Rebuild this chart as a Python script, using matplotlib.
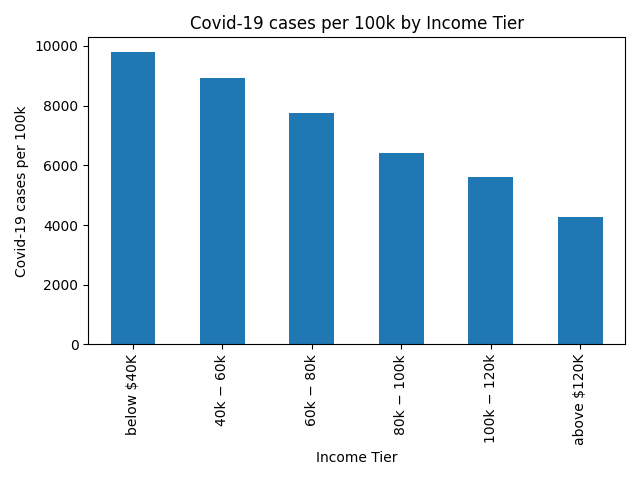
import matplotlib
matplotlib.use("Agg")
import matplotlib.pyplot as plt

tiers = ["below \\$40K", "40k \u2212 60k", "60k \u2212 80k", "80k \u2212 100k", "100k \u2212 120k", "above \\$120K"]
cases = [9800, 8920, 7760, 6420, 5600, 4260]

fig, ax = plt.subplots(figsize=(6.4, 4.8), dpi=100)
x = range(len(tiers))
ax.bar(x, cases, width=0.5, color="#1f77b4")
ax.set_xticks(list(x))
ax.set_xticklabels(tiers, rotation=90)
ax.set_xlim(-0.5, len(tiers) - 0.5)
ax.set_title("Covid-19 cases per 100k by Income Tier")
ax.set_xlabel("Income Tier")
ax.set_ylabel("Covid-19 cases per 100k")
fig.tight_layout()
fig.savefig("out.png")
